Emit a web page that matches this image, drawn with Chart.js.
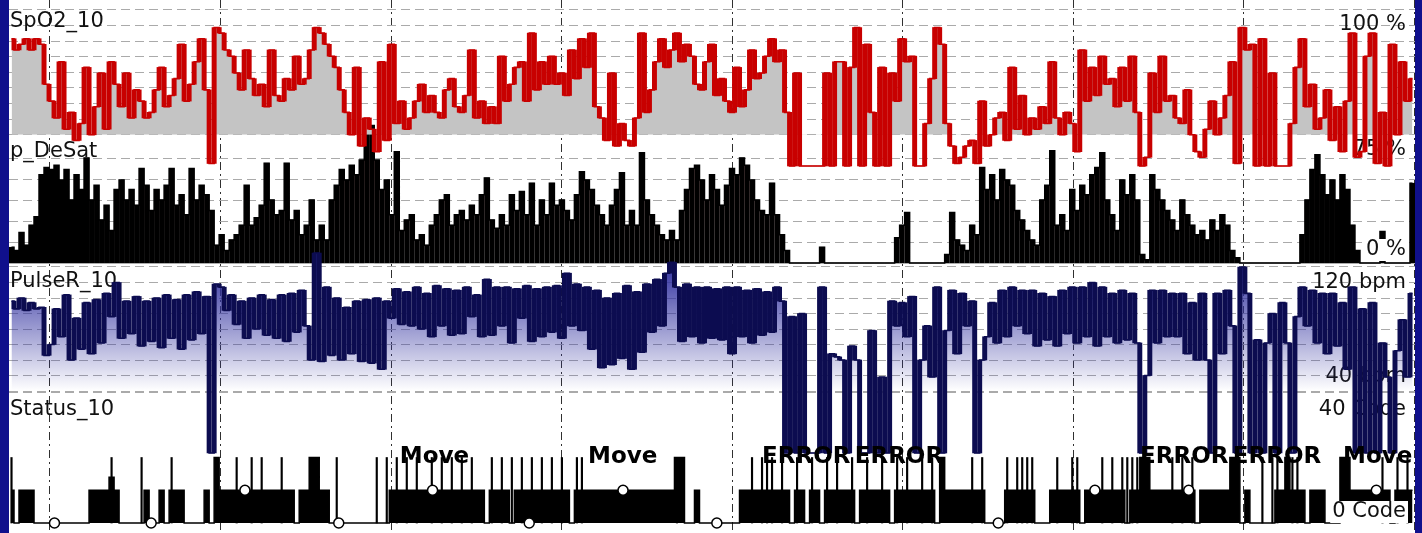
<!DOCTYPE html>
<html>
<head>
<meta charset="utf-8">
<script src="https://cdn.jsdelivr.net/npm/chart.js@4.4.1/dist/chart.umd.min.js"></script>
<style>
  html, body { margin: 0; padding: 0; background: #10108c; overflow: hidden; }
  #wrap { position: absolute; left: 9px; top: 0; width: 1406px; height: 533px; background: #fff; }
</style>
</head>
<body>
<div id="wrap"><canvas id="trend"></canvas></div>
<script>
// overnight trend, one value per sample (about 1.76 min each)
const TOTAL_MIN = 494.6
const hourMarks = [14.4, 74.4, 134.4, 194.4, 254.4, 314.4, 374.4, 434.4, 494.4]

// SpO2 in %
const spo2 = [
  95.4,93.6,94.5,95.4,93.6,95.4,94.5,88.1,85.4,82.7,
  91.7,80.9,83.6,79.1,81.8,90.8,80.0,84.5,89.9,80.9,
  91.7,88.1,84.5,89.9,82.7,87.2,85.4,82.7,83.6,87.2,
  90.8,84.5,86.3,89.0,94.5,85.4,88.1,91.7,95.4,87.2,
  75.4,97.2,96.3,93.6,92.6,89.9,87.2,93.6,89.0,86.3,
  88.1,84.5,93.6,86.3,85.4,89.0,87.2,92.6,88.1,89.0,
  93.6,97.2,96.3,94.5,92.6,90.8,87.2,83.6,80.0,90.8,
  78.2,82.7,80.9,77.3,91.7,79.1,94.5,81.8,85.4,80.9,
  82.7,85.4,88.1,83.6,86.3,83.6,82.7,87.2,89.0,84.5,
  83.6,86.3,93.6,82.7,85.4,81.8,84.5,81.8,92.6,85.4,
  88.1,90.8,91.7,85.4,96.3,87.2,91.7,88.1,92.6,88.1,
  89.9,86.3,93.6,89.0,95.4,90.8,96.3,84.5,82.7,79.1,
  89.9,78.2,81.8,79.1,78.2,82.7,96.3,83.6,87.2,91.7,
  95.4,90.8,93.6,96.3,91.7,94.5,92.6,88.1,87.2,91.7,
  94.5,86.3,89.0,85.4,83.6,90.8,84.5,87.2,93.6,89.0,
  89.9,92.6,95.4,91.7,93.6,83.6,75,89.9,75,75,
  75,75,75,89.9,75,91.7,91.7,75,90.8,97.2,
  75,94.5,83.6,75,90.8,75,89.9,85.4,95.4,91.7,
  92.6,75,75,81.8,89.0,97.2,94.5,81.8,78.2,75.4,
  76.4,78.2,79.1,75.4,85.4,78.2,80.0,82.7,83.6,79.1,
  90.8,80.9,86.3,80.0,82.7,80.9,84.5,81.8,91.7,82.7,
  80.0,83.6,81.8,77.3,93.6,85.4,90.8,86.3,92.6,88.1,
  89.0,84.5,90.8,85.4,92.6,83.6,75,76.4,89.9,83.6,
  92.6,85.4,86.3,82.7,81.8,87.2,80.0,77.3,76.4,80.9,
  85.4,80.0,82.7,86.3,91.7,75.4,97.2,93.6,94.5,75,
  95.4,75,89.9,75,75,75,81.8,90.8,95.4,84.5,
  88.1,80.9,82.7,87.2,79.1,84.5,77.3,85.4,96.3,76.4,
  77.3,92.6,96.3,75.4,83.6,75,94.5,80.0,91.7,85.4,
  89.0
]

// desaturation index
const pDesat = [
  15,12,29,17,36,44,84,91,89,93,
  79,89,60,84,70,100,60,74,41,55,
  31,70,79,60,70,55,90,74,50,70,
  60,74,90,55,65,46,90,60,74,65,
  50,17,27,12,22,27,36,74,36,43,
  55,95,60,46,50,95,41,50,27,36,
  60,22,36,22,60,74,89,79,93,84,
  98,124,131,98,70,79,46,106,31,41,
  46,22,27,17,36,46,60,65,36,46,
  50,41,55,46,65,81,41,33,46,36,
  65,50,68,46,76,36,60,46,76,55,
  60,50,41,65,87,79,70,55,46,36,
  55,70,86,36,50,36,105,60,46,36,
  27,22,31,22,50,70,90,93,79,60,
  84,70,55,74,90,84,100,93,79,60,
  50,46,76,46,27,12,0,0,0,0,
  0,0,15,0,0,0,0,0,0,0,
  0,0,0,0,0,0,0,24,36,48,
  0,0,0,0,0,0,0,8,48,22,
  17,12,36,27,91,70,84,60,89,79,
  74,50,41,31,22,17,60,74,107,36,
  46,31,70,50,74,65,84,91,105,60,
  46,31,79,65,84,60,8,3,84,70,
  60,50,41,31,60,46,36,27,31,22,
  41,31,46,36,12,5,0,0,0,0,
  0,0,0,0,0,0,0,0,27,60,
  89,103,84,65,79,60,84,70,36,12,
  0,0,0,0,30,0,0,0,0,0,
  76
]

// pulse rate in bpm
const pulse = [
  98,93,100,92,97,93,94,63,70,93,
  75,102,60,87,67,97,64,99,71,103,
  88,110,74,98,77,101,69,98,72,100,
  68,102,74,99,67,102,73,104,77,101,
  0,109,107,92,102,83,98,74,100,80,
  102,76,99,74,102,72,103,78,105,82,
  60,129,59,107,63,100,60,94,64,98,
  59,99,58,100,54,98,87,106,83,104,
  82,107,80,103,75,108,82,106,76,105,
  77,107,88,102,75,112,76,107,82,107,
  71,106,87,108,72,106,75,107,78,108,
  74,116,82,109,79,107,67,105,55,100,
  57,103,61,108,54,104,65,109,78,112,
  82,116,123,107,72,109,75,107,71,107,
  74,106,73,107,64,107,75,105,71,106,
  76,104,78,107,98,0,88,0,90,0,
  0,0,107,0,64,62,60,0,69,60,
  0,0,79,0,49,0,98,82,97,75,
  101,0,60,82,49,107,0,79,105,64,
  103,82,98,0,60,75,97,71,105,75,
  107,82,105,77,105,69,103,73,101,69,
  105,77,107,71,107,75,110,69,107,75,
  103,71,105,73,103,71,0,50,105,71,
  105,75,103,75,103,64,97,60,103,60,
  0,103,64,105,82,0,120,103,0,73,
  0,71,90,0,97,71,0,88,107,82,
  105,71,103,64,103,69,97,54,107,0,
  93,0,97,0,71,49,0,66,86,49,
  103
]

// status code per sample
const status = [
  10,0,10,10,10,0,0,0,0,0,
  0,0,0,0,0,0,10,10,10,10,
  14,10,0,0,0,0,0,10,0,0,
  10,0,10,10,10,0,0,0,0,10,
  0,20,10,10,10,10,10,10,10,10,
  10,10,10,10,10,10,10,0,10,10,
  20,20,10,10,0,0,0,0,0,0,
  0,0,0,0,0,0,10,10,10,10,
  10,10,10,10,10,10,10,10,10,10,
  10,10,10,10,10,0,10,10,10,10,
  0,10,10,10,10,10,10,10,10,10,
  10,10,0,10,10,10,10,10,10,10,
  10,10,10,10,10,10,10,10,10,10,
  10,10,10,20,20,0,0,10,0,0,
  0,0,0,0,0,0,10,10,10,10,
  10,10,10,10,10,10,0,10,10,0,
  10,10,0,10,10,10,10,10,10,0,
  10,10,10,10,10,10,0,10,10,10,
  10,10,10,10,10,0,20,10,10,10,
  10,10,10,10,10,0,0,0,0,10,
  10,10,10,10,10,0,0,0,10,10,
  10,10,10,10,0,10,10,10,10,10,
  10,10,10,0,10,10,20,20,10,10,
  10,10,10,10,10,10,10,0,10,10,
  10,10,10,10,20,20,0,10,0,0,
  0,0,0,10,10,20,10,10,10,0,
  10,10,10,0,0,0,20,20,10,10,
  10,10,10,10,10,10,0,10,10,10,
  10
]

// samples holding a short code-20 event
const statusSpikes = [0, 20, 26, 32, 45, 48, 50, 54, 65, 73, 75, 77, 79, 81, 84, 86, 88, 90, 92,
  96, 98, 100, 102, 104, 106, 108, 110, 113, 114, 133, 148, 150, 151, 152, 154, 157, 160, 163,
  165, 168, 171, 174, 177, 179, 182, 184, 192, 194, 199, 201, 202, 203, 204, 209, 212, 213, 218,
  220, 222, 223, 224, 225, 232, 234, 236, 250, 252, 253, 256, 257, 274, 277, 279]

// check-point markers (minutes, code)
const markerTimes = [16, 50, 83, 116, 149, 183, 216, 249, 348, 382, 415, 481]
const markerCodes = [0, 0, 10, 0, 10, 0, 10, 0, 0, 10, 10, 10]

// event texts on the status track
const eventNames = ['Move', 'Move', 'ERROR', 'ERROR', 'ERROR', 'ERROR', 'Move']
const eventTimes = [137.5, 203.7, 264.9, 297.5, 397.9, 430.5, 469.3]

const spo2Grid = [100, 97.5, 95, 92.5, 90, 87.5, 85, 82.5, 80]
const desatGrid = [100, 80, 60, 40, 20]
const pulseGrid = [120, 110, 100, 90, 80, 70, 60, 50, 40]
const statusGrid = [40]

const SAMPLE_MIN = TOTAL_MIN / spo2.length
const H = 533

const tAt = i => (i + 0.5) * SAMPLE_MIN
const pts = arr => arr.map((v, i) => ({ x: tAt(i), y: v }))
// vertical strokes between neighbouring samples, as floating bars
const jumps = arr => arr.slice(1).map((v, i) => ({
  x: (i + 1) * SAMPLE_MIN,
  y: [Math.min(arr[i], v), Math.max(arr[i], v)]
}))

// each track gets its own axis over the full height
function span (topVal, topPx, botVal, botPx) {
  const k = (botPx - topPx) / (topVal - botVal)
  return { max: topVal + topPx / k, min: botVal - (H - botPx) / k }
}

function hiddenAxis (range, grid, color, dash) {
  return {
    type: 'linear',
    position: 'left',
    min: range.min,
    max: range.max,
    ticks: { display: false },
    grid: { color: color, lineWidth: 1, drawTicks: false, offset: false },
    border: { display: false, dash: dash },
    afterBuildTicks: s => { s.ticks = grid.map(v => ({ value: v })) },
    afterFit: s => { s.width = 0 }
  }
}

function shade (axis, top, bottom, c0, c1) {
  return function (context) {
    const chart = context.chart
    const y = chart.scales[axis]
    if (!chart.chartArea || !y) return c1
    const g = chart.ctx.createLinearGradient(0, y.getPixelForValue(top), 0, y.getPixelForValue(bottom))
    g.addColorStop(0, c0)
    g.addColorStop(1, c1)
    return g
  }
}

const panelNames = [
  { text: 'SpO2_10', y: 22 },
  { text: 'p_DeSat', y: 152 },
  { text: 'PulseR_10', y: 282 },
  { text: 'Status_10', y: 410 }
]
const rangeLabels = [
  { text: '100 %', y: 25 },
  { text: '75 %', y: 150 },
  { text: '120 bpm', y: 283 },
  { text: '40 bpm', y: 377 },
  { text: '40 Code', y: 410 }
]
const boxedLabels = [
  { text: '0 %', y: 250 },
  { text: '0 Code', y: 512 }
]

const panelText = {
  id: 'panelText',
  beforeDatasetsDraw (chart) {
    const { ctx, width } = chart
    ctx.save()
    ctx.font = '21px "DejaVu Sans"'
    ctx.fillStyle = '#111'
    ctx.textBaseline = 'middle'
    ctx.textAlign = 'left'
    panelNames.forEach(p => ctx.fillText(p.text, 1, p.y))
    ctx.textAlign = 'right'
    rangeLabels.forEach(p => ctx.fillText(p.text, width - 9, p.y))
    ctx.restore()
  },
  afterDatasetsDraw (chart) {
    const { ctx, width, scales } = chart
    ctx.save()
    ctx.font = '21px "DejaVu Sans"'
    ctx.textBaseline = 'middle'
    ctx.textAlign = 'right'
    boxedLabels.forEach(p => {
      const w = ctx.measureText(p.text).width
      ctx.fillStyle = '#fff'
      ctx.fillRect(width - 11 - w, p.y - 11, w + 4, 22)
      ctx.fillStyle = '#111'
      ctx.fillText(p.text, width - 9, p.y)
    })
    ctx.font = 'bold 23px "DejaVu Sans"'
    ctx.textAlign = 'left'
    ctx.fillStyle = '#000'
    const yTxt = scales.yStatus.getPixelForValue(20)
    eventNames.forEach((name, i) => ctx.fillText(name, scales.x.getPixelForValue(eventTimes[i]), yTxt))
    ctx.restore()
  }
}

new Chart(document.getElementById('trend'), {
  type: 'line',
  data: {
    datasets: [
      {
        label: 'SpO2_10 strokes',
        type: 'bar',
        yAxisID: 'ySpo2',
        data: jumps(spo2),
        backgroundColor: '#c80000',
        barThickness: 4.3,
        grouped: false,
        order: 1
      },
      {
        label: 'SpO2_10',
        yAxisID: 'ySpo2',
        data: pts(spo2),
        stepped: 'middle',
        borderColor: '#c80000',
        borderWidth: 1.6,
        pointRadius: 0,
        fill: { value: 80, above: '#c4c4c4', below: 'rgba(0,0,0,0)' },
        order: 2
      },
      {
        label: 'PulseR_10 strokes',
        type: 'bar',
        yAxisID: 'yPulse',
        data: jumps(pulse),
        backgroundColor: '#0c0c50',
        barThickness: 4.3,
        grouped: false,
        order: 3
      },
      {
        label: 'PulseR_10',
        yAxisID: 'yPulse',
        data: pts(pulse),
        stepped: 'middle',
        borderColor: '#0c0c50',
        borderWidth: 1.6,
        pointRadius: 0,
        fill: 'origin',
        backgroundColor: shade('yPulse', 122, 40, 'rgba(50,50,160,1)', 'rgba(50,50,160,0)'),
        order: 4
      },
      {
        label: 'p_DeSat',
        type: 'bar',
        yAxisID: 'yDesat',
        data: pts(pDesat),
        backgroundColor: '#000',
        barThickness: 4.4,
        grouped: false,
        order: 5
      },
      {
        label: 'p_DeSat envelope',
        yAxisID: 'yDesat',
        data: pts(pDesat),
        stepped: 'middle',
        borderColor: '#000',
        borderWidth: 1.5,
        pointRadius: 0,
        fill: 'origin',
        backgroundColor: shade('yDesat', 100, 0, 'rgba(200,140,140,1)', 'rgba(255,255,255,1)'),
        order: 6
      },
      {
        label: 'Status events',
        type: 'bar',
        yAxisID: 'yStatus',
        data: statusSpikes.map(i => ({ x: tAt(i), y: 20 })),
        backgroundColor: '#000',
        barThickness: 1.5,
        grouped: false,
        order: 7
      },
      {
        label: 'Status_10',
        yAxisID: 'yStatus',
        data: pts(status),
        stepped: 'middle',
        borderColor: '#000',
        borderWidth: 1.5,
        pointRadius: 0,
        fill: 'origin',
        backgroundColor: '#000',
        order: 8
      },
      {
        label: 'Markers',
        yAxisID: 'yStatus',
        data: markerTimes.map((t, i) => ({ x: t, y: markerCodes[i] })),
        showLine: false,
        pointStyle: 'circle',
        pointRadius: 5,
        pointBackgroundColor: '#fff',
        pointBorderColor: '#000',
        pointBorderWidth: 1.5,
        order: 0
      }
    ]
  },
  options: {
    responsive: true,
    maintainAspectRatio: false,
    animation: false,
    devicePixelRatio: 1,
    events: [],
    layout: { padding: 0, autoPadding: false },
    plugins: { legend: { display: false }, tooltip: { enabled: false } },
    scales: {
      x: {
        type: 'linear',
        min: 0,
        max: TOTAL_MIN,
        offset: false,
        ticks: { display: false },
        grid: { color: '#303030', lineWidth: 1, drawTicks: false, offset: false },
        border: { display: false, dash: [8, 4, 2, 4] },
        afterBuildTicks: s => { s.ticks = hourMarks.map(v => ({ value: v })) },
        afterFit: s => { s.height = 0 }
      },
      ySpo2: hiddenAxis(span(100, 10, 75, 166), spo2Grid, '#aaaaaa', [9, 5]),
      yDesat: hiddenAxis(span(100, 158, 0, 263), desatGrid, '#aaaaaa', [9, 5]),
      yPulse: hiddenAxis(span(120, 267, 40, 391), pulseGrid, '#aaaaaa', [9, 5]),
      yStatus: hiddenAxis(span(40, 392, 0, 523), statusGrid, '#aaaaaa', [9, 5])
    }
  },
  plugins: [panelText]
})
</script>
</body>
</html>
